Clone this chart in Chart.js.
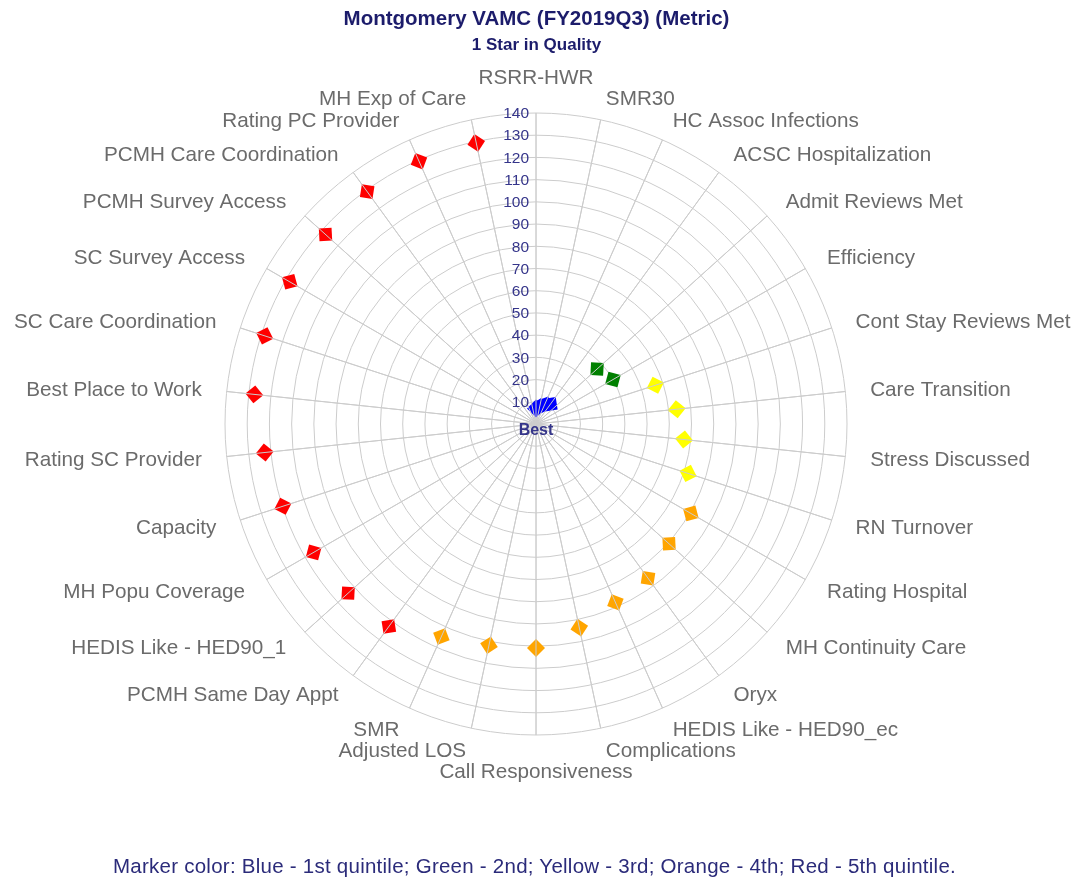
<!DOCTYPE html>
<html lang="en">
<head>
    <meta charset="UTF-8">
    <title>Montgomery VAMC (FY2019Q3) (Metric)</title>
    <script src="https://cdn.jsdelivr.net/npm/chart.js"></script>
    <style>
        body { margin: 0; background: #fff; }
        #wrap { position: relative; width: 1075px; height: 879px; }
        #footer {
            position: absolute; left: -3px; top: 854px; width: 1075px;
            text-align: center; color: #2b2b7a; letter-spacing: 0.25px;
            font: 20.5px "Liberation Sans", Arial, sans-serif;
        }
    </style>
</head>
<body>
    <div id="wrap">
        <canvas id="myChart" width="1075" height="879"></canvas>
        <div id="footer">Marker color: Blue - 1st quintile; Green - 2nd; Yellow - 3rd; Orange - 4th; Red - 5th quintile.</div>
    </div>
    <script>
        // metrics, clockwise from the top
        const metricNames = [
            'RSRR-HWR', 'SMR30', 'HC Assoc Infections', 'ACSC Hospitalization',
            'Admit Reviews Met', 'Efficiency', 'Cont Stay Reviews Met', 'Care Transition',
            'Stress Discussed', 'RN Turnover', 'Rating Hospital', 'MH Continuity Care',
            'Oryx', 'HEDIS Like - HED90_ec', 'Complications', 'Call Responsiveness',
            'Adjusted LOS', 'SMR', 'PCMH Same Day Appt', 'HEDIS Like - HED90_1',
            'MH Popu Coverage', 'Capacity', 'Rating SC Provider', 'Best Place to Work',
            'SC Care Coordination', 'SC Survey Access', 'PCMH Survey Access',
            'PCMH Care Coordination', 'Rating PC Provider', 'MH Exp of Care'
        ];
        const metricValues = [
            7, 8, 9.5, 11,
            37, 40, 56.5, 63.7,
            67, 72, 80.5, 80.6,
            85.8, 87.9, 93.7, 100.8,
            101.8, 104.7, 112.7, 113.8,
            115.6, 119.8, 122.8, 127.5,
            128.4, 128, 127.5,
            129.3, 129.5, 129.4
        ];
        const quintiles = [
            1, 1, 1, 1,
            2, 2, 3, 3,
            3, 3, 4, 4,
            4, 4, 4, 4,
            4, 4, 5, 5,
            5, 5, 5, 5,
            5, 5, 5,
            5, 5, 5
        ];
        const quintileColors = ['#0000ff', '#008000', '#ffff00', '#ffa500', '#ff0000'];
        const centerLabel = 'Best';

        const gridColor = '#cccccc';
        const fontFamily = '"Liberation Sans", Arial, sans-serif';

        // spokes drawn again on top of the markers, plus tick and point labels
        const overlay = {
            id: 'overlay',
            afterDatasetsDraw(chart) {
                const scale = chart.scales.r;
                const ctx = chart.ctx;
                const outer = scale.getDistanceFromCenterForValue(scale.max);
                ctx.save();
                ctx.strokeStyle = gridColor;
                ctx.lineWidth = 1;
                for (let i = 0; i < metricNames.length; i++) {
                    const p = scale.getPointPosition(i, outer);
                    ctx.beginPath();
                    ctx.moveTo(scale.xCenter, scale.yCenter);
                    ctx.lineTo(p.x, p.y);
                    ctx.stroke();
                }

                // radial tick labels, right aligned against the top spoke
                ctx.fillStyle = '#35358a';
                ctx.font = '15.5px ' + fontFamily;
                ctx.textAlign = 'right';
                ctx.textBaseline = 'middle';
                scale.ticks.forEach(t => {
                    if (t.value <= 0) return;
                    const d = scale.getDistanceFromCenterForValue(t.value);
                    ctx.fillText(String(t.value), scale.xCenter - 7, scale.yCenter - d + 1);
                });
                ctx.textAlign = 'center';
                ctx.font = 'bold 16px ' + fontFamily;
                ctx.fillText(centerLabel, scale.xCenter, scale.yCenter + 7);

                // category labels
                ctx.fillStyle = '#6b6b6b';
                ctx.font = '20.7px ' + fontFamily;
                metricNames.forEach((name, i) => {
                    const deg = i * 360 / metricNames.length;
                    const p = scale.getPointPosition(i, outer + 25);
                    const c = Math.cos(deg * Math.PI / 180);
                    let y = p.y + (c > 0 ? 1 + 3 * c : 1 + 2 * c);
                    if (deg === 0) {
                        ctx.textAlign = 'center';
                        ctx.textBaseline = 'bottom';
                        y = p.y + 1;
                    } else if (deg === 180) {
                        ctx.textAlign = 'center';
                        ctx.textBaseline = 'top';
                        y = p.y + 2;
                    } else {
                        ctx.textAlign = deg < 180 ? 'left' : 'right';
                        ctx.textBaseline = 'middle';
                    }
                    ctx.fillText(name, p.x, y);
                });
                ctx.restore();
            }
        };

        const ctx = document.getElementById('myChart').getContext('2d');
        const myChart = new Chart(ctx, {
            type: 'radar',
            data: {
                labels: metricNames,
                datasets: [{
                    label: 'Metric',
                    data: metricValues,
                    fill: false,
                    showLine: false,
                    backgroundColor: 'rgba(0,0,0,0)',
                    borderColor: 'rgba(0,0,0,0)',
                    pointStyle: 'rectRot',
                    pointRadius: 9,
                    pointHoverRadius: 9,
                    pointBorderWidth: 0,
                    pointBackgroundColor: quintiles.map(q => quintileColors[q - 1]),
                    pointRotation: metricNames.map((n, i) => i * 360 / metricNames.length)
                }]
            },
            options: {
                responsive: false,
                animation: false,
                layout: { padding: { right: 2, bottom: 143.5 } },
                plugins: {
                    legend: { display: false },
                    tooltip: { enabled: false },
                    title: {
                        display: true,
                        text: 'Montgomery VAMC (FY2019Q3) (Metric)',
                        color: '#1c1c6b',
                        font: { family: fontFamily, size: 20.5, weight: 'bold' },
                        padding: { top: 7, bottom: 1 }
                    },
                    subtitle: {
                        display: true,
                        text: '1 Star in Quality',
                        color: '#1c1c6b',
                        font: { family: fontFamily, size: 17, weight: 'bold' },
                        padding: { top: 3, bottom: 56.5 }
                    }
                },
                scales: {
                    r: {
                        min: 0,
                        max: 140,
                        ticks: { stepSize: 10, display: false },
                        grid: { circular: true, color: gridColor },
                        angleLines: { color: gridColor },
                        pointLabels: { display: false }
                    }
                }
            },
            plugins: [overlay]
        });
    </script>
</body>
</html>
